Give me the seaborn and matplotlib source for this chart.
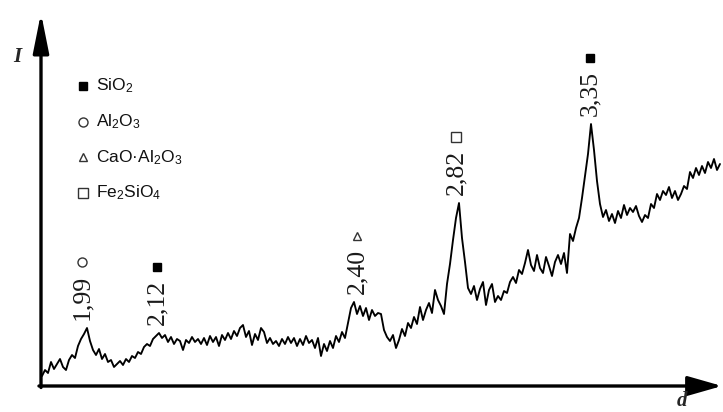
import numpy as np
import pandas as pd
import matplotlib
matplotlib.use("Agg")
import matplotlib.pyplot as plt
import matplotlib.transforms as mtransforms
import seaborn as sns

# Detector scan grid (channel units along the d axis)
SCAN_START = 1
SCAN_STEP = 3

# Diffracted intensity (arbitrary units), one value per scan channel
intensity = [
    10, 16, 13, 24, 17, 22, 27, 19, 16, 26,
    31, 28, 40, 47, 52, 58, 45, 36, 31, 37,
    27, 32, 24, 26, 19, 22, 25, 21, 27, 24,
    30, 28, 34, 32, 39, 42, 40, 47, 50, 53,
    48, 51, 44, 49, 42, 47, 45, 36, 46, 43,
    49, 44, 47, 42, 48, 41, 50, 44, 49, 40,
    51, 46, 53, 47, 55, 50, 58, 61, 49, 55,
    41, 52, 46, 58, 54, 43, 48, 42, 45, 40,
    47, 42, 49, 43, 48, 40, 47, 41, 50, 43,
    46, 38, 48, 30, 42, 35, 45, 38, 50, 44,
    54, 48, 63, 78, 84, 72, 80, 70, 78, 66,
    76, 70, 73, 72, 56, 49, 45, 51, 38, 46,
    57, 50, 63, 58, 69, 62, 79, 66, 76, 83,
    73, 96, 86, 80, 72, 102, 122, 146, 168, 183,
    148, 124, 98, 92, 100, 86, 97, 104, 81, 96,
    102, 84, 90, 86, 95, 93, 104, 109, 103, 116,
    112, 123, 136, 121, 115, 131, 118, 113, 129, 120,
    110, 124, 131, 122, 133, 113, 152, 145, 158, 168,
    188, 210, 232, 262, 236, 205, 182, 169, 176, 165,
    172, 163, 175, 168, 181, 171, 178, 174, 180, 170,
    164, 171, 168, 182, 178, 192, 186, 195, 191, 199,
    188, 195, 186, 192, 200, 197, 214, 208, 218, 211,
    220, 213, 224, 218, 227, 216, 222,
]

# Identified reflections: interplanar spacing label, phase, scan channel
peak_labels = ["1,99", "2,12", "2,40", "2,82", "3,35"]
peak_phases = ["Al2O3", "SiO2", "CaO·Al2O3", "Fe2SiO4", "SiO2"]
peak_channels = [41, 116, 316, 415, 549]

# Phase legend
phases = ["SiO2", "Al2O3", "CaO·Al2O3", "Fe2SiO4"]
phase_labels = [
    r"Si$\mathregular{O_2}$",
    r"A$\mathregular{l_2O_3}$",
    r"CaO·A$\mathregular{l_2O_3}$",
    r"F$\mathregular{e_2SiO_4}$",
]
phase_style = {
    "SiO2": dict(marker="s", mfc="black", mec="black", ms=6.0, mew=1.0),
    "Al2O3": dict(marker="o", mfc="white", mec="#333333", ms=6.5, mew=1.0),
    "CaO·Al2O3": dict(marker="^", mfc="white", mec="#333333", ms=6.0, mew=1.0),
    "Fe2SiO4": dict(marker="s", mfc="white", mec="#333333", ms=7.0, mew=1.0),
}

sns.set_theme(style="white")
plt.rcParams["font.family"] = ["Liberation Sans", "DejaVu Sans"]
plt.rcParams["mathtext.fontset"] = "custom"
plt.rcParams["mathtext.rm"] = "Liberation Sans"

W, H = 723, 412
fig = plt.figure(figsize=(W / 100, H / 100), dpi=100)
fig.patch.set_facecolor("white")

ax_left, ax_bottom, ax_right, ax_top = 41, 26, 722, 399
ax = fig.add_axes([ax_left / W, ax_bottom / H,
                   (ax_right - ax_left) / W, (ax_top - ax_bottom) / H])
ax.set_xlim(0, ax_right - ax_left)
ax.set_ylim(0, ax_top - ax_bottom)
ax.set_facecolor("white")
for sp in ax.spines.values():
    sp.set_visible(False)
ax.set_xticks([])
ax.set_yticks([])

channels = SCAN_START + SCAN_STEP * np.arange(len(intensity))
df = pd.DataFrame({"channel": channels, "intensity": intensity})
sns.lineplot(data=df, x="channel", y="intensity", ax=ax, color="black",
             lw=1.35, estimator=None, sort=False)

# Axes drawn as arrows
ax.annotate("", xy=(0, 1), xytext=(0, -0.004), xycoords="axes fraction",
            arrowprops=dict(arrowstyle="-|>,head_length=1.2,head_width=0.24",
                            lw=2.4, color="black", mutation_scale=20,
                            shrinkA=0, shrinkB=0),
            annotation_clip=False)
ax.annotate("", xy=(1, 0), xytext=(-0.003, 0), xycoords="axes fraction",
            arrowprops=dict(arrowstyle="-|>,head_length=1.05,head_width=0.3",
                            lw=2.4, color="black", mutation_scale=20,
                            shrinkA=0, shrinkB=0),
            annotation_clip=False)

fig.text(17 / W, 1 - 57 / H, "I", family="Liberation Serif", style="italic",
         weight="bold", fontsize=15, ha="center", va="center")
fig.text(682 / W, 1 - 411 / H, "d", family="Liberation Serif", style="italic",
         weight="bold", fontsize=15, ha="center", va="bottom")

# Phase legend
for i, (ph, lab) in enumerate(zip(phases, phase_labels)):
    ypix = 86 + i * 35.7
    fig.lines.append(plt.Line2D([83 / W], [1 - ypix / H], transform=fig.transFigure,
                                linestyle="none", **phase_style[ph]))
    fig.text(96 / W, 1 - ypix / H, lab, fontsize=12.5, ha="left", va="center",
             color="#111111")

# Peak annotations: rotated d-spacing with phase marker above
marker_shift = mtransforms.offset_copy(ax.transData, fig=fig, x=0, y=58 * 0.72,
                                       units="points")
ch = np.asarray(channels)
vals = np.asarray(intensity)
for lab, ph, pc in zip(peak_labels, peak_phases, peak_channels):
    near = np.abs(ch - pc) <= 7
    base = vals[near].max() + 8
    ax.text(pc, base, lab, family="Liberation Serif", fontsize=18.5,
            rotation=90, ha="center", va="bottom", color="#1a1a1a")
    ax.plot([pc], [base], transform=marker_shift, linestyle="none",
            clip_on=False, **phase_style[ph])

fig.savefig("out.png", dpi=100, facecolor="white")
